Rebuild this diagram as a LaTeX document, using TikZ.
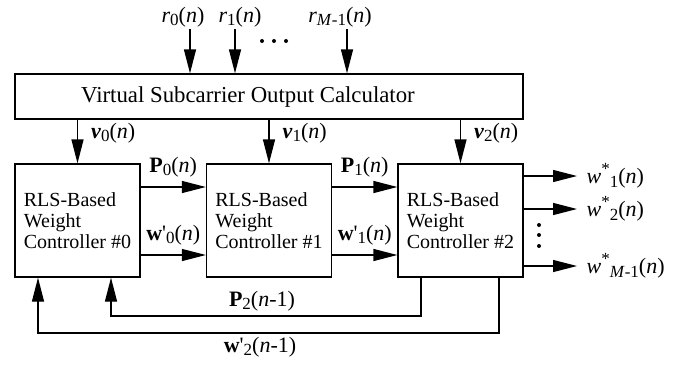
\documentclass[tikz,border=0pt]{standalone}
\usepackage{fontspec}
\setmainfont{Liberation Serif}
\usetikzlibrary{arrows.meta,positioning}
\newcommand{\sbx}[1]{\raisebox{-0.32ex}{\fontsize{17}{17}\selectfont #1}}
\newcommand{\spx}[1]{\raisebox{0.9ex}{\fontsize{17}{17}\selectfont #1}}
\newcommand{\prm}{\textquotesingle}

\begin{document}
\begin{tikzpicture}[x=1pt,y=-1pt,>={Triangle[length=24pt,width=12pt]},line width=1.3pt,
    font=\fontsize{22}{24}\selectfont,
    blk/.style={draw,minimum width=125pt,minimum height=113pt,align=left,
                font=\fontsize{20}{21}\selectfont},
    sig/.style={->},
    lbl/.style={inner sep=1pt}]
  \useasboundingbox (0,0) rectangle (698,365);
% ================= calculator and inputs =================
  \node[draw,minimum width=508pt,minimum height=45pt] (calc) at (269,96.5) {};
  \node (calctxt) at (248,97) {\fontsize{22.8}{24}\selectfont Virtual Subcarrier Output Calculator};
  \foreach \nm/\px/\lx/\txt in {r0/190/183/{\textit{r}\sbx{0}(\textit{n})},
                                r1/235/240/{\textit{r}\sbx{1}(\textit{n})},
                                rM/347/340/{\textit{r}\sbx{\textit{M}-1}(\textit{n})}}{
      \node[lbl,anchor=south] (\nm) at (\lx,29) {\txt};
      \coordinate (in\nm) at (\px,0);
      \draw[sig] (in\nm |- \nm.south) -- (in\nm |- calc.north);}
  \foreach \dx in {262,274,286} \fill (\dx,41) circle (2pt);
% ================= weight controllers =================
  \node[blk] (wc0) at (77.5,220.5) {RLS-Based\\Weight\\Controller \#0};
  \node[blk] (wc1) at (269,220.5)  {RLS-Based\\Weight\\Controller \#1};
  \node[blk] (wc2) at (460.5,220.5) {RLS-Based\\Weight\\Controller \#2};
  \foreach \k in {0,1,2}
      \draw[sig] (calc.south -| wc\k.north) -- (wc\k.north)
          node[lbl,pos=0.3,anchor=west,xshift=12pt] (v\k)
          {\textbf{\textit{v}}\sbx{\k}(\textit{n})};
  % forward links
  \foreach \a/\b in {0/1,1/2}{
      \draw[sig] ([yshift=33.5pt]wc\a.east) -- ([yshift=33.5pt]wc\b.west)
          node[lbl,midway,above=8pt] (p\a) {\textbf{P}\sbx{\a}(\textit{n})};
      \draw[sig] ([yshift=-34.5pt]wc\a.east) -- ([yshift=-34.5pt]wc\b.west)
          node[lbl,midway,above=8pt] (w\a) {\textbf{w}\prm\sbx{\a}(\textit{n})};}
% ================= outputs =================
  \foreach \k/\oy/\txt in {1/176/{\textit{w}\spx{*}\sbx{1}(\textit{n})},
                           2/209/{\textit{w}\spx{*}\sbx{2}(\textit{n})},
                           M/266/{\textit{w}\spx{*}\sbx{\textit{M}-1}(\textit{n})}}{
      \coordinate (o\k) at (577,\oy);
      \draw[sig] (wc2.east |- o\k) -- (o\k) node[lbl,right=8pt] (wo\k) {\txt};}
  \foreach \dy in {225,235,246} \fill (539,\dy) circle (2pt);
% ================= feedback =================
  \coordinate (pr) at (421,316); \coordinate (pl) at (111,316);
  \coordinate (wr) at (499,333); \coordinate (wl) at (38,333);
  \draw[sig] (wc2.south -| pr) -- (pr) -- (pl) -- (wc0.south -| pl);
  \draw[sig] (wc2.south -| wr) -- (wr) -- (wl) -- (wc0.south -| wl);
  \node[lbl] (p2) at (262,301) {\textbf{P}\sbx{2}(\textit{n}-1)};
  \node[lbl] (w2) at (260,347) {\textbf{w}\prm\sbx{2}(\textit{n}-1)};
\end{tikzpicture}
\end{document}
